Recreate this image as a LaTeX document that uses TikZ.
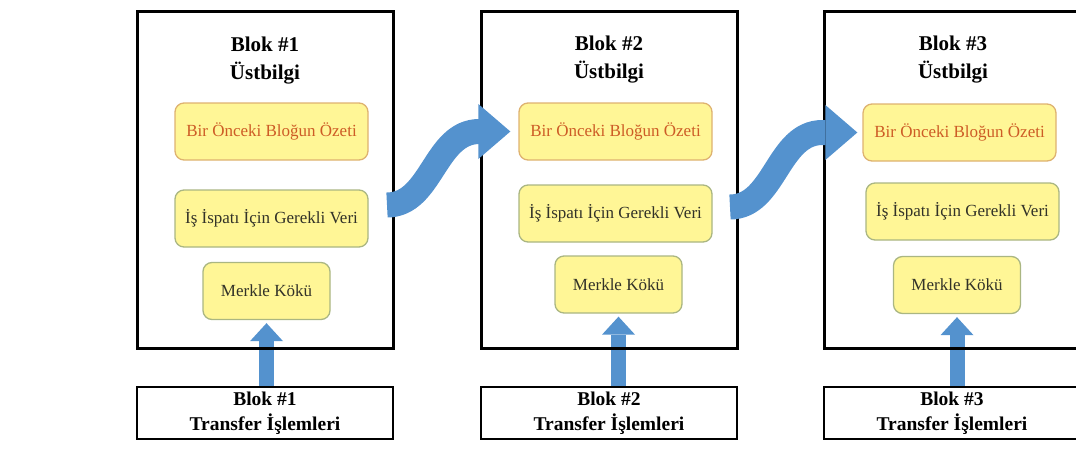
\documentclass[tikz,border=0pt]{standalone}
\usepackage{fontspec}
\setmainfont{Liberation Serif}
\usepackage{tikz}
\usetikzlibrary{arrows.meta}
\usetikzlibrary{backgrounds}
\definecolor{arrblue}{RGB}{84,146,206}
\definecolor{boxyellow}{RGB}{255,246,150}
\definecolor{prevline}{RGB}{222,178,112}
\definecolor{dataline}{RGB}{170,182,130}
\definecolor{prevtext}{RGB}{205,92,38}
\definecolor{datatext}{RGB}{50,50,40}
\tikzset{
  hdr/.style={draw,line width=3pt,minimum width=256pt,minimum height=337pt,inner sep=0pt},
  txbox/.style={draw,line width=2.4pt,minimum width=256pt,minimum height=52pt,inner sep=0pt,font=\bfseries\fontsize{19.5}{25}\selectfont,align=center},
  title/.style={font=\bfseries\fontsize{21}{28}\selectfont,align=center,inner sep=0pt},
  field/.style={draw=dataline,fill=boxyellow,rounded corners=9pt,line width=1.3pt,minimum width=193pt,minimum height=57pt,inner sep=0pt,font=\fontsize{17}{20}\selectfont,text=datatext},
  prevfield/.style={field,draw=prevline,text=prevtext},
  rootfield/.style={field,minimum width=127pt},
  flow/.style={arrblue,line width=25pt,-{Triangle[length=32pt,width=55pt,line width=0pt]}},
  feed/.style={arrblue,line width=15pt,-{Triangle[length=18pt,width=33pt,line width=0pt]}}
}

\begin{document}
\begin{tikzpicture}[x=1pt,y=-1pt]
\useasboundingbox (0,0) rectangle (1076,472);

\node (hdr1) at (265,179.5) [hdr] {};
\node (hdr2) at (609,179.5) [hdr] {};
\node (hdr3) at (952,179.5) [hdr] {};

\node (ttl1) at (265,61) [title] {Blok \#1\\Üstbilgi};
\node (ttl2) at (609,60) [title] {Blok \#2\\Üstbilgi};
\node (ttl3) at (953,60) [title] {Blok \#3\\Üstbilgi};

\node (prev1) at (271.5,131.5) [prevfield] {Bir Önceki Bloğun Özeti};
\node (prev2) at (615.5,131.5) [prevfield] {Bir Önceki Bloğun Özeti};
\node (prev3) at (959.5,132.5) [prevfield] {Bir Önceki Bloğun Özeti};

\node (pow1) at (271.5,218.5) [field] {İş İspatı İçin Gerekli Veri};
\node (pow2) at (615.5,213.5) [field] {İş İspatı İçin Gerekli Veri};
\node (pow3) at (962.5,211.5) [field] {İş İspatı İçin Gerekli Veri};

\node (mk1) at (266.5,291) [rootfield] {Merkle Kökü};
\node (mk2) at (618.5,284.5) [rootfield] {Merkle Kökü};
\node (mk3) at (957,285) [rootfield] {Merkle Kökü};

\node (tx1) at (265,413) [txbox] {Blok \#1\\Transfer İşlemleri};
\node (tx2) at (609,413) [txbox] {Blok \#2\\Transfer İşlemleri};
\node (tx3) at (952,413) [txbox] {Blok \#3\\Transfer İşlemleri};

% transfers feed the merkle root
\begin{scope}[on background layer]
\draw[feed, shorten >=3pt] (mk1.south |- tx1.north) -- (mk1.south);
\draw[feed, shorten >=3pt] (mk2.south |- tx2.north) -- (mk2.south);
\draw[feed, shorten >=3pt] (mk3.south |- tx3.north) -- (mk3.south);
\end{scope}

% chain links
\coordinate (s1) at (387,205);
\coordinate (s2) at (730,207);
\draw[flow, shorten >=8pt] (s1) .. controls +(45,0) and +(-45,0) .. ([xshift=-39pt]prev2.west) -- (prev2.west);
\draw[flow, shorten >=5pt] (s2) .. controls +(45,0) and +(-45,0) .. ([xshift=-40pt]prev3.west) -- (prev3.west);
\end{tikzpicture}
\end{document}
